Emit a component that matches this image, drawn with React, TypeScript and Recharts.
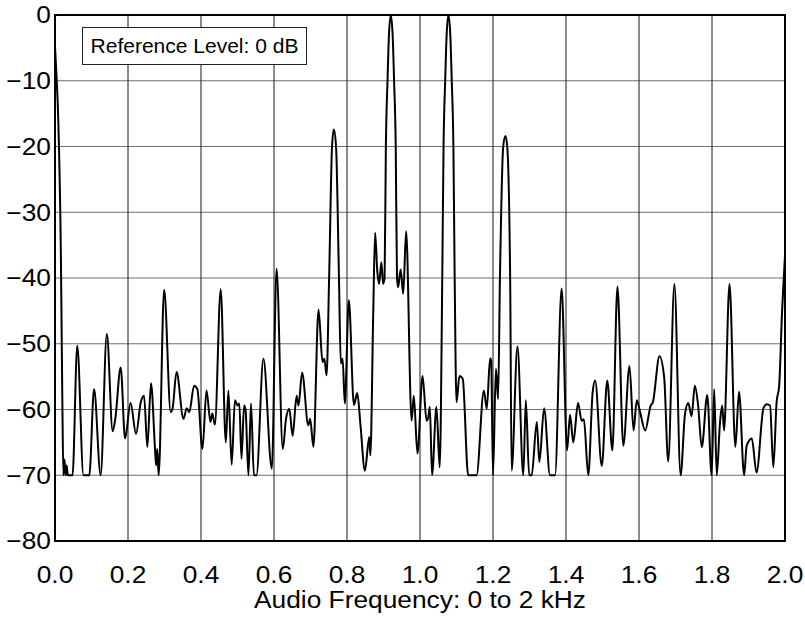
import React from "react";
import { LineChart, Line, XAxis, YAxis, CartesianGrid, ReferenceArea } from "recharts";

// Frequency (kHz) of each traced point
const freqs: number[] = [
  0.0, 0.003, 0.009, 0.016, 0.02, 0.023, 0.026, 0.029, 0.032, 0.035, 0.048,
  0.061, 0.078, 0.094, 0.107, 0.125, 0.142, 0.158, 0.165, 0.18, 0.192, 0.207,
  0.222, 0.235, 0.244, 0.253, 0.263, 0.274, 0.277, 0.28, 0.284, 0.299, 0.317,
  0.322, 0.333, 0.352, 0.361, 0.368, 0.381, 0.39, 0.404, 0.415, 0.426, 0.431,
  0.438, 0.454, 0.468, 0.475, 0.484, 0.493, 0.5, 0.505, 0.511, 0.518, 0.522,
  0.53, 0.537, 0.545, 0.552, 0.571, 0.594, 0.607, 0.624, 0.633, 0.642, 0.651,
  0.662, 0.667, 0.677, 0.694, 0.699, 0.708, 0.722, 0.733, 0.738, 0.744, 0.751,
  0.759, 0.764, 0.77, 0.778, 0.783, 0.788, 0.794, 0.805, 0.819, 0.828, 0.837,
  0.849, 0.861, 0.864, 0.872, 0.877, 0.883, 0.888, 0.894, 0.899, 0.903, 0.9065,
  0.911, 0.915, 0.92, 0.925, 0.929, 0.9335, 0.937, 0.94, 0.947, 0.954, 0.962,
  0.977, 0.983, 0.993, 1.007, 1.018, 1.022, 1.027, 1.033, 1.045, 1.054, 1.061,
  1.0645, 1.069, 1.073, 1.078, 1.083, 1.087, 1.0915, 1.095, 1.1, 1.108, 1.117,
  1.132, 1.155, 1.175, 1.183, 1.192, 1.195, 1.2, 1.208, 1.214, 1.219, 1.228,
  1.234, 1.239, 1.247, 1.251, 1.267, 1.283, 1.29, 1.299, 1.306, 1.32, 1.327,
  1.34, 1.356, 1.37, 1.388, 1.403, 1.411, 1.42, 1.433, 1.443, 1.449, 1.461,
  1.473, 1.48, 1.498, 1.513, 1.527, 1.541, 1.557, 1.574, 1.585, 1.594, 1.603,
  1.617, 1.632, 1.638, 1.656, 1.669, 1.68, 1.697, 1.714, 1.726, 1.735, 1.744,
  1.753, 1.762, 1.772, 1.787, 1.799, 1.806, 1.813, 1.822, 1.828, 1.833, 1.848,
  1.864, 1.874, 1.888, 1.895, 1.909, 1.922, 1.941, 1.95, 1.959, 1.968, 1.977,
  1.984, 1.992, 2.0,
];

// Level (dB) at each traced point
const levels: number[] = [
  -4.8, -8, -16, -36, -58, -70, -67.6, -70, -68.5, -70, -70,
  -50.3, -70, -70, -56.9, -70, -48.5, -63.3, -61.5, -53.6, -64.4, -59,
  -63.7, -58.9, -57.9, -65.7, -56, -66, -68.5, -66, -70, -41.8, -60.4,
  -59.9, -54.3, -61.4, -59.8, -60.4, -56.4, -56.9, -66, -57.1, -61.9, -60.6,
  -62.3, -41.7, -65, -57.1, -68.4, -58.6, -59.4, -59.1, -67.5, -59.4, -60,
  -70, -59.1, -70, -70, -52.3, -69, -38.6, -66, -61.4, -59.9, -64,
  -57.9, -59.4, -54.4, -62.4, -61.4, -65.7, -44.8, -52.8, -52.3, -54.8, -40,
  -20, -17.4, -20, -40, -53, -52.3, -59.1, -43.4, -59.3, -57.5, -62.4,
  -69.3, -64.2, -67, -45, -33.1, -39, -40.9, -37.6, -40.9, -40, -20,
  -10, -3, 0, -3, -10, -20, -40, -41.4, -38.7, -42.4, -32.9,
  -61.7, -57.9, -66.7, -54.9, -61.7, -61.4, -59.6, -70, -59.6, -68.8, -40,
  -20, -10, -3, 0, -3, -10, -20, -40, -58.9, -54.9, -55.3,
  -70, -70, -57.1, -59.9, -52.2, -52.5, -70, -53.8, -58.4, -40, -20,
  -18.4, -20, -40, -69.3, -50.4, -70, -58.6, -70, -70, -61.9, -68,
  -59.8, -70, -70, -41.6, -66.2, -60.8, -65, -59, -61.7, -61.5, -70,
  -57.4, -55.6, -68.6, -55.6, -66.2, -41.3, -65.5, -53.4, -63.2, -58.6, -60.4,
  -63.2, -59.4, -58.9, -51.9, -55.1, -67.9, -40.9, -70, -60.7, -59, -61,
  -56.4, -59.4, -65.7, -57.8, -70, -56.9, -70, -61.9, -59.4, -63.2, -40.9,
  -65.7, -57.3, -70, -65.5, -64.4, -69.6, -59.8, -59.2, -59.4, -68.8, -58.9,
  -56.4, -45, -36.5,
];

const xTicks: number[] = [0, 0.2, 0.4, 0.6, 0.8, 1.0, 1.2, 1.4, 1.6, 1.8, 2.0];
const yTicks: number[] = [-80, -70, -60, -50, -40, -30, -20, -10, 0];

const xLabel = "Audio Frequency: 0 to 2 kHz";
const boxLabel = "Reference Level: 0 dB";

const data = freqs.map((f, i) => ({ f, db: levels[i] }));

const FONT = "'Liberation Sans', Arial, Helvetica, sans-serif";
const STRETCH = 1.12;

// horizontal stretch anchored at x so the text keeps its anchor point
const stretchAt = (x: number) => `matrix(${STRETCH},0,0,1,${(1 - STRETCH) * x},0)`;

const XTick = (props: any) => {
  const { x, y, payload } = props;
  return (
    <text
      x={x}
      y={y}
      dy="0.71em"
      textAnchor="middle"
      fontSize={23.5}
      fontFamily={FONT}
      fill="#000"
      transform={stretchAt(x)}
    >
      {Number(payload.value).toFixed(1)}
    </text>
  );
};

const YTick = (props: any) => {
  const { x, y, payload } = props;
  const v = Number(payload.value);
  return (
    <text
      x={x}
      y={y}
      dy="0.355em"
      textAnchor="end"
      fontSize={23.5}
      fontFamily={FONT}
      fill="#000"
      transform={stretchAt(x)}
    >
      {v < 0 ? "\u2212" + Math.abs(v) : String(v)}
    </text>
  );
};

const XLabel = (props: any) => {
  const vb = props.viewBox || {};
  const cx = (vb.x || 0) + (vb.width || 0) / 2;
  const y = (vb.y || 0) + (vb.height || 0) - 11;
  return (
    <text
      x={cx}
      y={y}
      textAnchor="middle"
      fontSize={23.5}
      fontFamily={FONT}
      fill="#000"
      transform={stretchAt(cx)}
    >
      {xLabel}
    </text>
  );
};

export default function App() {
  return (
    <div style={{ position: "absolute", left: 0, top: 0, width: 805, height: 619, background: "#fff" }}>
      <LineChart
        width={805}
        height={619}
        data={data}
        margin={{ top: 15, right: 20, bottom: 0, left: 0 }}
      >
        <CartesianGrid vertical={false} stroke="#6e6e6e" strokeWidth={1} />
        <CartesianGrid horizontal={false} stroke="#1a1a1a" strokeWidth={1} />
        <XAxis
          dataKey="f"
          type="number"
          domain={[0, 2]}
          ticks={xTicks}
          axisLine={false}
          tickLine={false}
          tickSize={0}
          tickMargin={25}
          height={78}
          tick={<XTick />}
          label={(p: any) => <XLabel {...p} />}
        />
        <YAxis
          type="number"
          domain={[-80, 0]}
          ticks={yTicks}
          axisLine={false}
          tickLine={false}
          tickSize={0}
          tickMargin={4}
          width={55}
          tick={<YTick />}
        />
        <Line
          type="monotone"
          dataKey="db"
          stroke="#000"
          strokeWidth={2}
          dot={false}
          isAnimationActive={false}
        />
        <ReferenceArea
          x1={0}
          x2={2}
          y1={-80}
          y2={0}
          fill="none"
          fillOpacity={0}
          stroke="#000"
          strokeWidth={2}
          ifOverflow="visible"
        />
      </LineChart>
      <div
        style={{
          position: "absolute",
          left: 82,
          top: 27,
          width: 225,
          height: 38,
          boxSizing: "border-box",
          border: "1px solid #222",
          background: "#fff",
          fontFamily: FONT,
          fontSize: 21,
          color: "#000",
          display: "flex",
          alignItems: "center",
          justifyContent: "center",
          whiteSpace: "nowrap",
        }}
      >
        {boxLabel}
      </div>
    </div>
  );
}
